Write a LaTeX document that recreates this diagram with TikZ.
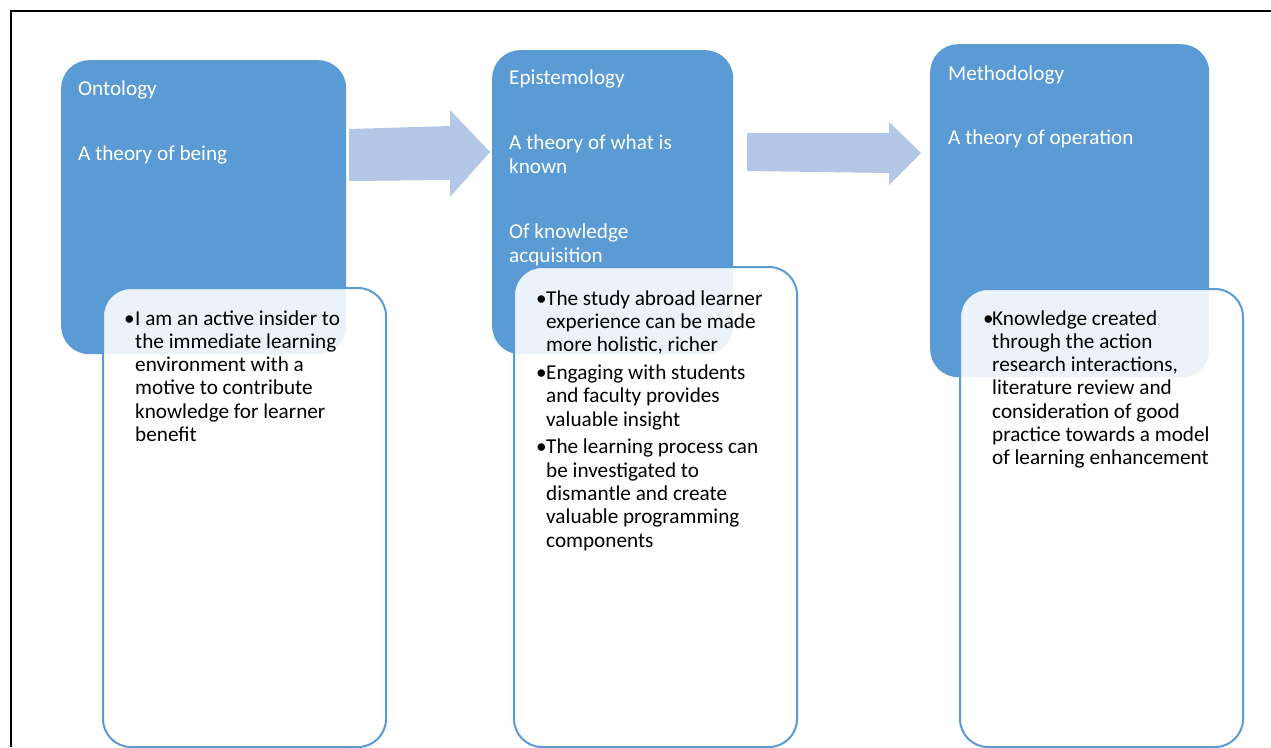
\documentclass[tikz,border=0pt]{standalone}
\usepackage{fontspec}
\setmainfont{Carlito}
\definecolor{boxblue}{HTML}{5B9BD5}
\definecolor{arrowblue}{HTML}{B4C7E7}
% text lines whose reference point is the baseline of the first line
\newcommand{\firstbase}[1]{\parbox[t]{320pt}{\raggedright #1}}
% one bulleted paragraph with hanging indent (lines split with \newline)
\newcommand{\pointitem}[2][10pt]{\par\noindent\hangindent=#1\hangafter=1\makebox[#1][l]{\kern-1pt\textbullet}#2}
\begin{document}
\begin{tikzpicture}[x=1pt,y=-1pt,
  concept/.style={rectangle, fill=boxblue, draw=none, rounded corners=28pt, inner sep=0pt, anchor=north west},
  detail/.style={rectangle, fill=white, fill opacity=0.88, draw=boxblue, line width=2pt, rounded corners=28pt, inner sep=0pt, anchor=north west},
  headtext/.style={text=white, inner sep=0pt, anchor=base west, font=\fontsize{21.2}{24}\selectfont},
  bodytext/.style={text=black, inner sep=0pt, anchor=base west, font=\fontsize{21.2}{23.3}\selectfont},
  flow/.style={fill=arrowblue, draw=none}]
\useasboundingbox (0,0) rectangle (1271,747);
% page frame
\draw[line width=2pt] (11,747) -- (11,11) -- (1271,11);

% concept boxes
\node[concept, minimum width=285pt, minimum height=294pt] (onto) at (61,60) {};
\node[concept, minimum width=241pt, minimum height=304pt] (epis) at (492,50) {};
\node[concept, minimum width=279pt, minimum height=333pt] (meth) at (930,44) {};

% block arrows between the concepts
\fill[flow] (349,129) -- (450,126) -- (450,110) -- (490,152) -- (450,197) -- (450,180) -- (349,181) -- cycle;
\fill[flow] (747,133) -- (889,133) -- (889,122) -- (921,153) -- (889,185) -- (889,173) -- (747,171) -- cycle;

% concept texts
\node[headtext] (ontoT) at (78,95) {Ontology};
\node[headtext] (ontoS) at (78,160) {A theory of being};
\node[headtext] (episT) at (509,84) {Epistemology};
\node[headtext] (episS) at (509,149) {\firstbase{A theory of what is\\known}};
\node[headtext] (episK) at (509,238) {\firstbase{Of knowledge\\acquisition}};
\node[headtext] (methT) at (948,80) {Methodology};
\node[headtext] (methS) at (948,144) {A theory of operation};

% detail boxes overlapping the concepts
\node[detail, minimum width=283pt, minimum height=459pt] (ontoD) at (102,287) {};
\node[detail, minimum width=283pt, minimum height=480pt] (episD) at (513,266) {};
\node[detail, minimum width=283pt, minimum height=458pt] (methD) at (959,288) {};

% detail texts
\node[bodytext] (ontoB) at (125,325) {\firstbase{%
  \pointitem{I am an active insider to\newline the immediate learning\newline environment with a\newline motive to contribute\newline knowledge for learner\newline benefit}}};
\node[bodytext] (episB) at (537,305) {\firstbase{\setlength{\parskip}{4.5pt}%
  \pointitem[9pt]{The study abroad learner\newline experience can be made\newline more holistic, richer}
  \pointitem[9pt]{Engaging with students\newline and faculty provides\newline valuable insight}
  \pointitem[9pt]{The learning process can\newline be investigated to\newline dismantle and create\newline valuable programming\newline components}}};
\node[bodytext] (methB) at (984,325) {\firstbase{%
  \pointitem[8pt]{Knowledge created\newline through the action\newline research interactions,\newline literature review and\newline consideration of good\newline practice towards a model\newline of learning enhancement}}};
\end{tikzpicture}
\end{document}
